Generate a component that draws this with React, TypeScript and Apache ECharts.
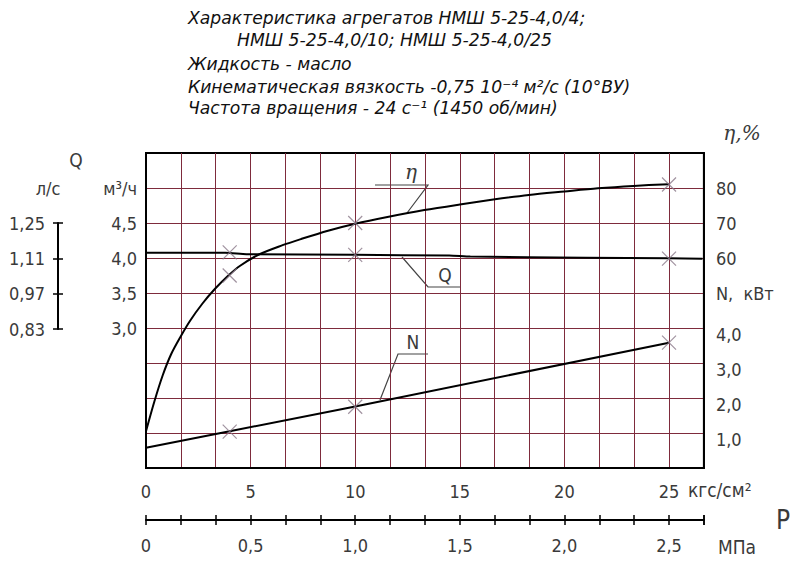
import React, { useEffect, useRef } from "react";
import * as echarts from "echarts";

// ---------- data ----------
const titleLines = [
  "Характеристика агрегатов НМШ 5-25-4,0/4;",
  "НМШ 5-25-4,0/10; НМШ 5-25-4,0/25",
  "Жидкость - масло",
  "Кинематическая вязкость -0,75 10⁻⁴ м²/с (10°ВУ)",
  "Частота вращения - 24 с⁻¹ (1450 об/мин)",
];

// pressure P, kgf/cm2 -> efficiency, %
const etaCurve: [number, number][] = [
  [0, 10.5], [0.4, 19], [0.8, 26.5], [1.2, 32.5], [1.65, 37.5], [2.1, 42],
  [2.7, 47], [3.3, 51.2], [3.9, 54.8], [4.5, 57.8], [5.4, 61], [6.5, 63.6],
  [7.4, 65.4], [8.7, 67.8], [10, 69.8], [11.6, 71.8], [13.3, 73.7],
  [15, 75.3], [16.6, 76.7], [18.3, 78], [20, 79], [21.6, 79.9],
  [23.3, 80.6], [25, 81.1],
];
// pressure -> flow Q, m3/h
const qCurve: [number, number][] = [
  [0, 4.075], [3.8, 4.075], [4.8, 4.055], [10, 4.045], [14.5, 4.035],
  [15.5, 4.02], [21, 4.005], [25, 3.995], [26.6, 3.99],
];
// pressure -> power N, kW
const nCurve: [number, number][] = [
  [0, 0.58], [4, 1.05], [10, 1.76], [25, 3.58],
];

// measured points (crosses)
const etaMarks: [number, number][] = [[4, 55], [10, 70], [25, 81]];
const qMarks: [number, number][] = [[4, 4.08], [10, 4.045], [25, 3.99]];
const nMarks: [number, number][] = [[4, 1.04], [10, 1.75], [25, 3.58]];

// tick labels
const kgfLabels = [0, 5, 10, 15, 20, 25];
const mpaLabels = [0, 0.5, 1.0, 1.5, 2.0, 2.5];
const qM3hLabels = [3.0, 3.5, 4.0, 4.5, 5.0];
const qLsLabels = [0.83, 0.97, 1.11, 1.25];
const etaLabels = [60, 70, 80];
const nLabels = [1, 2, 3, 4, 5];

const GRID_COLOR = "#7e2b3c";
const LABEL_COLOR = "#3a3a3a";
const MARK_COLOR = "#8a7888";
const CAD_FONT = "'DejaVu Sans Condensed', 'Liberation Sans Narrow', sans-serif";
const TITLE_FONT = "'DejaVu Sans', 'Liberation Sans', sans-serif";

const comma = (v: number, d: number) => v.toFixed(d).replace(".", ",");

export default function App() {
  const ref = useRef<HTMLDivElement>(null);

  useEffect(() => {
    if (!ref.current) return;
    const chart = echarts.init(ref.current, undefined, { renderer: "svg" });

    const labelStyle = {
      color: LABEL_COLOR,
      fontFamily: CAD_FONT,
      fontSize: 18,
    };
    const crossSymbol = "path://M0,0L10,10M10,0L0,10";
    const crossSeries = (data: [number, number][], yAxisIndex: number) => ({
      type: "scatter",
      xAxisIndex: 0,
      yAxisIndex,
      data,
      symbol: crossSymbol,
      symbolSize: 14,
      silent: true,
      z: 4,
      itemStyle: { color: MARK_COLOR, borderColor: MARK_COLOR, borderWidth: 1.2 },
    });

    const titleGraphics = titleLines.map((t, i) => ({
      type: "text",
      x: i === 1 ? 237 : 188,
      y: [18, 40, 64, 87, 108][i],
      style: {
        text: t,
        fill: "#111",
        fontFamily: TITLE_FONT,
        fontStyle: "italic",
        fontSize: 17.2,
        verticalAlign: "middle",
      },
    }));

    const leader = (points: number[][]) => ({
      type: "polyline",
      shape: { points },
      style: { stroke: "#444", lineWidth: 1.2, fill: null },
      silent: true,
    });
    const txt = (text: string, x: number, y: number, size: number, extra: any = {}) => ({
      type: "text",
      x,
      y,
      style: {
        text,
        fill: LABEL_COLOR,
        fontFamily: CAD_FONT,
        fontSize: size,
        align: "center",
        verticalAlign: "middle",
        ...extra,
      },
    });

    const noZeroLine = (show: boolean, width = 2) => ({
      show, onZero: false, lineStyle: { color: "#000", width },
    });

    chart.setOption({
      animation: false,
      backgroundColor: "#fff",
      grid: [
        {
          left: 146, top: 153, right: 87, bottom: 117,
          show: true, borderColor: "#000", borderWidth: 2,
          backgroundColor: "transparent",
        },
        { left: 58, top: 223, width: 1, height: 106, show: false },
      ],
      xAxis: [
        {
          gridIndex: 0, type: "value", position: "bottom",
          min: 0, max: 80 / 3, interval: 5 / 3,
          axisLine: noZeroLine(true),
          axisTick: { show: false },
          splitLine: {
            show: true, showMinLine: false, showMaxLine: false,
            lineStyle: { color: GRID_COLOR, width: 1 },
          },
          axisLabel: {
            ...labelStyle, margin: 14,
            customValues: kgfLabels,
            formatter: (v: number) => String(Math.round(v)),
          },
          name: "кгс/см²", nameLocation: "end", nameGap: -16, nameMoveOverlap: false,
          nameTextStyle: { ...labelStyle, fontSize: 19, align: "left", verticalAlign: "top", padding: [12, 0, 0, 0] },
        },
        {
          gridIndex: 0, type: "value", position: "bottom", offset: 52,
          min: 0, max: 8 / 3, interval: 1 / 6,
          axisLine: noZeroLine(true),
          axisTick: { show: true, inside: false, length: 5, lineStyle: { color: "#000", width: 1.5 } },
          splitLine: { show: false },
          axisLabel: {
            ...labelStyle, margin: 16,
            customValues: mpaLabels,
            formatter: (v: number) => (v === 0 ? "0" : comma(v, 1)),
          },
          name: "МПа", nameLocation: "end", nameGap: 14, nameMoveOverlap: false,
          nameTextStyle: { ...labelStyle, fontSize: 19, align: "left", verticalAlign: "top", padding: [17, 0, 0, 0] },
        },
        {
          gridIndex: 0, type: "value", position: "bottom", offset: 52,
          min: 0, max: 8 / 3, interval: 1 / 6,
          axisLine: noZeroLine(false),
          axisTick: { show: true, inside: true, length: 5, lineStyle: { color: "#000", width: 1.5 } },
          splitLine: { show: false },
          axisLabel: { show: false },
          name: "P", nameLocation: "end", nameGap: 72, nameMoveOverlap: false,
          nameTextStyle: { ...labelStyle, fontSize: 26, align: "left", verticalAlign: "middle", padding: [0, 0, 8, 0] },
        },
        { gridIndex: 1, type: "value", show: false, min: 0, max: 1 },
      ],
      yAxis: [
        {
          gridIndex: 0, type: "value", position: "left",
          min: 1, max: 5.5, interval: 0.5,
          axisLine: noZeroLine(true),
          axisTick: { show: false },
          splitLine: {
            show: true, showMinLine: false, showMaxLine: false,
            lineStyle: { color: GRID_COLOR, width: 1 },
          },
          axisLabel: {
            ...labelStyle, margin: 9,
            customValues: qM3hLabels,
            formatter: (v: number) => (Math.abs(v - 5) < 1e-6 ? "м³/ч" : comma(v, 1)),
          },
        },
        {
          gridIndex: 0, type: "value", position: "right",
          min: 0, max: 90, interval: 10,
          axisLine: noZeroLine(true),
          axisTick: { show: false },
          splitLine: { show: false },
          axisLabel: {
            ...labelStyle, margin: 12,
            customValues: etaLabels,
            formatter: (v: number) => String(Math.round(v)),
          },
        },
        {
          gridIndex: 0, type: "value", position: "right",
          min: 0, max: 9, interval: 1,
          axisLine: noZeroLine(false),
          axisTick: { show: false },
          splitLine: { show: false },
          axisLabel: {
            ...labelStyle, margin: 12,
            customValues: nLabels,
            formatter: (v: number) =>
              Math.round(v) === 5 ? "N,  кВт" : `{v|${comma(v, 1)}}`,
            rich: {
              v: { ...labelStyle, padding: [12, 0, 0, 0] },
            },
          },
        },
        {
          gridIndex: 1, type: "value", position: "left",
          min: 0.83, max: 1.25,
          axisLine: noZeroLine(true),
          axisTick: {
            show: true, inside: false, length: 5, customValues: qLsLabels,
            lineStyle: { color: "#000", width: 1.5 },
          },
          splitLine: { show: false },
          axisLabel: {
            ...labelStyle, margin: 13,
            customValues: qLsLabels,
            formatter: (v: number) => comma(v, 2),
          },
        },
        {
          gridIndex: 1, type: "value", position: "left",
          min: 0.83, max: 1.25,
          axisLine: noZeroLine(false),
          axisTick: {
            show: true, inside: true, length: 5, customValues: qLsLabels,
            lineStyle: { color: "#000", width: 1.5 },
          },
          splitLine: { show: false },
          axisLabel: { show: false },
        },
      ],
      series: [
        {
          name: "η", type: "line", xAxisIndex: 0, yAxisIndex: 1,
          data: etaCurve, smooth: 0.3, showSymbol: false, silent: true, z: 3,
          lineStyle: { color: "#000", width: 2 },
        },
        {
          name: "Q", type: "line", xAxisIndex: 0, yAxisIndex: 0,
          data: qCurve, smooth: 0.2, showSymbol: false, silent: true, z: 3,
          lineStyle: { color: "#000", width: 2 },
        },
        {
          name: "N", type: "line", xAxisIndex: 0, yAxisIndex: 2,
          data: nCurve, showSymbol: false, silent: true, z: 3,
          lineStyle: { color: "#000", width: 2 },
        },
        crossSeries(etaMarks, 1),
        crossSeries(qMarks, 0),
        crossSeries(nMarks, 2),
      ],
      graphic: [
        ...titleGraphics,
        txt("Q", 76, 160, 19),
        txt("л/с", 48, 188, 18),
        txt("η,%", 742, 133, 20, { fontFamily: "'DejaVu Serif', serif", fontStyle: "italic" }),
        leader([[375, 185], [428, 185], [407, 213]]),
        leader([[402, 257], [428, 287], [460, 287]]),
        leader([[380, 400], [398, 354], [428, 354]]),
        txt("η", 411, 172, 20, { fontFamily: "'DejaVu Serif', serif", fontStyle: "italic" }),
        txt("Q", 445, 275, 19),
        txt("N", 413, 342, 19),
      ],
    });

    return () => chart.dispose();
  }, []);

  return (
    <div
      ref={ref}
      style={{ position: "absolute", left: 0, top: 0, width: 793, height: 585, background: "#fff" }}
    />
  );
}
